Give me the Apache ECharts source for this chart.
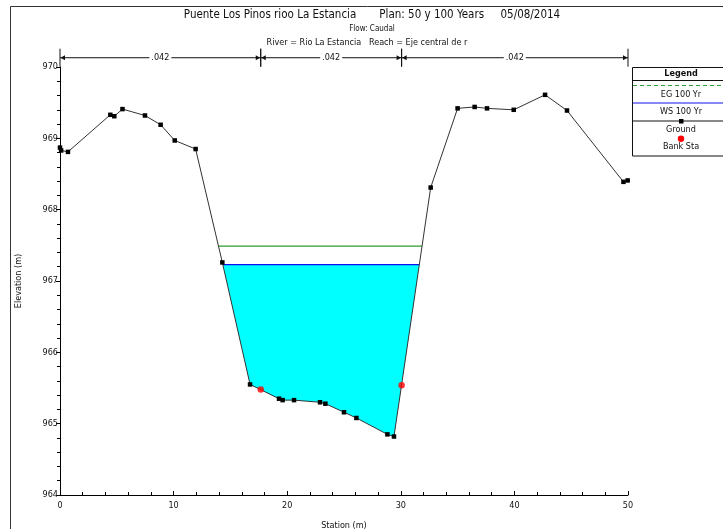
<!DOCTYPE html>
<html>
<head>
<meta charset="utf-8">
<script src="https://cdn.jsdelivr.net/npm/echarts@6/dist/echarts.min.js"></script>
<style>html,body{margin:0;padding:0;background:#fff}#c{width:723px;height:529px}</style>
</head>
<body>
<div id="c"></div>
<script>
// ---- data ----
const groundStation = [0, 0.1, 0.7, 4.43, 4.78, 5.5, 7.48, 8.86, 10.1, 11.94, 14.29, 16.73, 19.28, 19.6, 20.6, 22.89, 23.36, 25.0, 26.09, 28.82, 29.4, 32.63, 35.0, 36.5, 37.59, 39.94, 42.7, 44.63, 49.6, 49.97];
const groundElev = [968.87, 968.83, 968.81, 969.33, 969.31, 969.41, 969.32, 969.19, 968.97, 968.85, 967.26, 965.55, 965.35, 965.33, 965.33, 965.30, 965.28, 965.16, 965.08, 964.85, 964.82, 968.31, 969.42, 969.44, 969.42, 969.40, 969.61, 969.39, 968.39, 968.41];
const bankStation = [17.67, 30.07];
const bankElev = [965.48, 965.54];
const wsElev = 967.23;   // WS 100 Yr
const egElev = 967.49;   // EG 100 Yr
const nBounds = [0, 17.67, 30.07, 50];
const nValues = ['.042', '.042', '.042'];
const nElev = 970.13;
const xTicks = [0, 10, 20, 30, 40, 50];
const yTicks = [964, 965, 966, 967, 968, 969, 970];

const FONT = '"Liberation Sans Narrow","DejaVu Sans Condensed","Arial Narrow",sans-serif';

// intersections of a level with the ground profile (channel region)
function crossings(level) {
  let left = null, right = null;
  for (let i = 0; i < groundStation.length - 1; i++) {
    const y1 = groundElev[i], y2 = groundElev[i + 1];
    if ((y1 - level) * (y2 - level) <= 0 && y1 !== y2) {
      const t = (level - y1) / (y2 - y1);
      const x = groundStation[i] + t * (groundStation[i + 1] - groundStation[i]);
      if (y1 > level && y2 < level && left === null) left = { x, i };
      else if (y1 < level && y2 > level) right = { x, i };
    }
  }
  return { left, right };
}
const wsC = crossings(wsElev);
const egC = crossings(egElev);

const groundData = groundStation.map((s, i) => [s, groundElev[i]]);
const bankData = bankStation.map((s, i) => [s, bankElev[i]]);
const nData = nValues.map((v, i) => [nBounds[i], nBounds[i + 1], v]);

const chart = echarts.init(document.getElementById('c'));

const option = {
  animation: false,
  backgroundColor: '#fff',
  grid: { left: 60, right: 95, top: 67, bottom: 34, containLabel: false, outerBoundsMode: 'none' },
  xAxis: {
    type: 'value', min: xTicks[0], max: xTicks[xTicks.length - 1], interval: 10,
    name: 'Station (m)', nameLocation: 'middle', nameGap: 26,
    nameTextStyle: { fontFamily: FONT, fontSize: 9, color: '#111' },
    axisLine: { show: true, lineStyle: { color: '#000', width: 1 } },
    axisTick: { show: true, inside: true, length: 4, lineStyle: { color: '#000' } },
    minorTick: { show: true, splitNumber: 5, length: 3, lineStyle: { color: '#000' } },
    axisLabel: { fontFamily: FONT, fontSize: 9, color: '#111', margin: 6 },
    splitLine: { show: false }
  },
  yAxis: {
    type: 'value', min: yTicks[0], max: yTicks[yTicks.length - 1], interval: 1,
    name: 'Elevation (m)', nameLocation: 'middle', nameGap: 37,
    nameTextStyle: { fontFamily: FONT, fontSize: 9, color: '#111' },
    axisLine: { show: true, lineStyle: { color: '#000', width: 1 } },
    axisTick: { show: true, inside: false, length: 4, lineStyle: { color: '#000' } },
    minorTick: { show: true, splitNumber: 5, length: 3, lineStyle: { color: '#000' } },
    axisLabel: { fontFamily: FONT, fontSize: 9, color: '#111', margin: 2 },
    splitLine: { show: false }
  },
  series: [
    {
      name: 'WS fill', type: 'custom', z: 1, silent: true,
      data: [[0]],
      renderItem: function (params, api) {
        const pts = [];
        pts.push(api.coord([wsC.left.x, wsElev]));
        for (let i = wsC.left.i + 1; i <= wsC.right.i; i++) pts.push(api.coord([groundStation[i], groundElev[i]]));
        pts.push(api.coord([wsC.right.x, wsElev]));
        return { type: 'polygon', shape: { points: pts }, style: { fill: '#00ffff', stroke: null } };
      }
    },
    {
      name: 'EG 100 Yr', type: 'line', z: 3, symbol: 'none',
      data: [[egC.left.x, egElev], [egC.right.x, egElev]],
      lineStyle: { color: '#2e9e2e', width: 1.2 }
    },
    {
      name: 'WS 100 Yr', type: 'line', z: 3, symbol: 'none',
      data: [[wsC.left.x, wsElev], [wsC.right.x, wsElev]],
      lineStyle: { color: '#1010ee', width: 1.3 }
    },
    {
      name: 'Ground', type: 'line', z: 4, data: groundData,
      symbol: 'rect', symbolSize: 4.5,
      lineStyle: { color: '#333', width: 1 },
      itemStyle: { color: '#000' }
    },
    {
      name: 'Bank Sta', type: 'scatter', z: 5, data: bankData,
      symbol: 'circle', symbolSize: 6.5,
      itemStyle: { color: '#ff0000' }
    },
    {
      name: 'n values', type: 'custom', z: 6, silent: true, clip: false,
      data: nData,
      renderItem: function (params, api) {
        const p1 = api.coord([api.value(0), nElev]);
        const p2 = api.coord([api.value(1), nElev]);
        const y = p1[1];
        const label = nValues[params.dataIndex];
        const mid = (p1[0] + p2[0]) / 2;
        return {
          type: 'group',
          children: [
            { type: 'line', shape: { x1: p1[0], y1: y, x2: p2[0], y2: y }, style: { stroke: '#111', lineWidth: 1 } },
            { type: 'line', shape: { x1: p1[0], y1: y - 9, x2: p1[0], y2: y + 9 }, style: { stroke: '#111', lineWidth: 1 } },
            { type: 'line', shape: { x1: p2[0], y1: y - 9, x2: p2[0], y2: y + 9 }, style: { stroke: '#111', lineWidth: 1 } },
            { type: 'polygon', shape: { points: [[p1[0] + 0.5, y], [p1[0] + 5, y - 2.5], [p1[0] + 5, y + 2.5]] }, style: { fill: '#111' } },
            { type: 'polygon', shape: { points: [[p2[0] - 0.5, y], [p2[0] - 5, y - 2.5], [p2[0] - 5, y + 2.5]] }, style: { fill: '#111' } },
            { type: 'text', x: mid, y: y, style: { text: label, fontFamily: FONT, fontSize: 9, fill: '#111', align: 'center', verticalAlign: 'middle', backgroundColor: '#fff', padding: [0, 2] } }
          ]
        };
      }
    }
  ],
  graphic: [
    { type: 'rect', shape: { x: 10.5, y: 6.5, width: 760, height: 600 }, style: { fill: null, stroke: '#333', lineWidth: 1 }, silent: true },
    { type: 'text', x: 372, y: 15, style: { text: 'Puente Los Pinos rioo La Estancia       Plan: 50 y 100 Years     05/08/2014', fontFamily: FONT, fontSize: 11.5, fill: '#111', align: 'center', verticalAlign: 'middle' } },
    { type: 'text', x: 372, y: 29, style: { text: 'Flow: Caudal', fontFamily: FONT, fontSize: 8, fill: '#111', align: 'center', verticalAlign: 'middle' } },
    { type: 'text', x: 367, y: 43, style: { text: 'River = Rio La Estancia   Reach = Eje central de r', fontFamily: FONT, fontSize: 9, fill: '#111', align: 'center', verticalAlign: 'middle' } },
    // legend box
    { type: 'rect', shape: { x: 632.5, y: 67.5, width: 110, height: 88.5 }, style: { fill: '#fff', stroke: '#111', lineWidth: 1 }, z: 10 },
    { type: 'line', shape: { x1: 632.5, y1: 80.5, x2: 742, y2: 80.5 }, style: { stroke: '#111', lineWidth: 1 }, z: 10 },
    { type: 'text', x: 681, y: 73.5, z: 10, style: { text: 'Legend', fontFamily: FONT, fontSize: 9, fontWeight: 'bold', fill: '#111', align: 'center', verticalAlign: 'middle' } },
    { type: 'line', shape: { x1: 633, y1: 85.5, x2: 742, y2: 85.5 }, style: { stroke: '#2e9e2e', lineWidth: 1, lineDash: [4, 3] }, z: 10 },
    { type: 'text', x: 681, y: 94.5, z: 10, style: { text: 'EG 100 Yr', fontFamily: FONT, fontSize: 9, fill: '#111', align: 'center', verticalAlign: 'middle' } },
    { type: 'line', shape: { x1: 633, y1: 103, x2: 742, y2: 103 }, style: { stroke: '#1010ee', lineWidth: 1.2 }, z: 10 },
    { type: 'text', x: 681, y: 112, z: 10, style: { text: 'WS 100 Yr', fontFamily: FONT, fontSize: 9, fill: '#111', align: 'center', verticalAlign: 'middle' } },
    { type: 'line', shape: { x1: 633, y1: 121, x2: 742, y2: 121 }, style: { stroke: '#111', lineWidth: 1 }, z: 10 },
    { type: 'rect', shape: { x: 679, y: 119, width: 4.5, height: 4.5 }, style: { fill: '#000' }, z: 10 },
    { type: 'text', x: 681, y: 129.5, z: 10, style: { text: 'Ground', fontFamily: FONT, fontSize: 9, fill: '#111', align: 'center', verticalAlign: 'middle' } },
    { type: 'circle', shape: { cx: 681, cy: 138.7, r: 3.2 }, style: { fill: '#ff0000' }, z: 10 },
    { type: 'text', x: 681, y: 147, z: 10, style: { text: 'Bank Sta', fontFamily: FONT, fontSize: 9, fill: '#111', align: 'center', verticalAlign: 'middle' } }
  ]
};
chart.setOption(option);
</script>
</body>
</html>
